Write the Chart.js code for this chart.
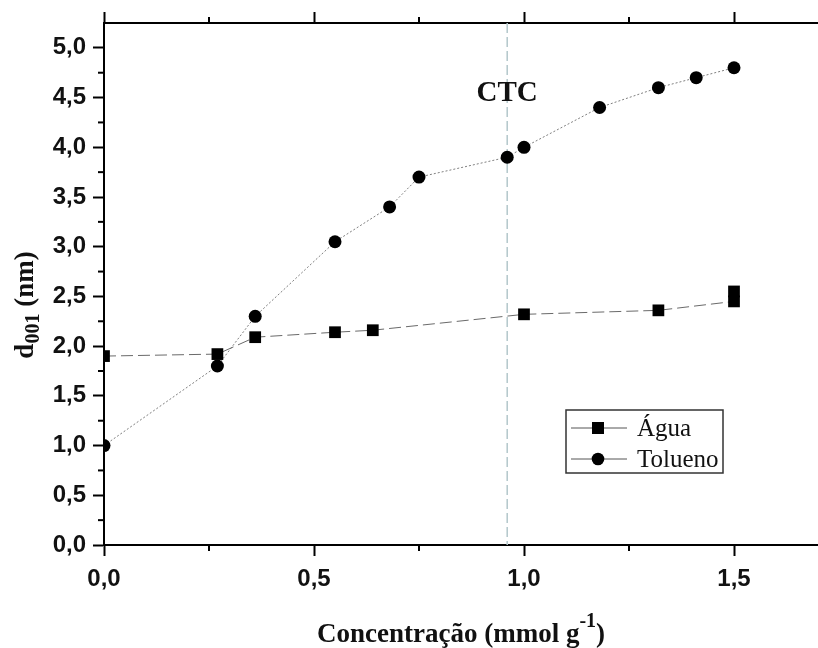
<!DOCTYPE html>
<html>
<head>
<meta charset="utf-8">
<script src="https://cdn.jsdelivr.net/npm/chart.js@4.4.1/dist/chart.umd.min.js"></script>
<style>
  body { margin: 0; background: #fff; }
  #wrap { width: 818px; height: 648px; }
</style>
</head>
<body>
<div id="wrap"><canvas id="c" width="818" height="648"></canvas></div>
<script>
// dados
const aguaX = [0, 0.27, 0.36, 0.55, 0.64, 1.0, 1.32, 1.5, 1.5];
const aguaY = [1.90, 1.92, 2.09, 2.14, 2.16, 2.32, 2.36, 2.45, 2.55];
const toluenoX = [0, 0.27, 0.36, 0.55, 0.68, 0.75, 0.96, 1.0, 1.18, 1.32, 1.41, 1.5];
const toluenoY = [1.0, 1.8, 2.3, 3.05, 3.4, 3.7, 3.9, 4.0, 4.4, 4.6, 4.7, 4.8];
const seriesNames = ['Água', 'Tolueno'];
const ctcValue = 0.96;
const ctcLabel = 'CTC';
const xRange = [0, 1.7];
const yRange = [0, 5.25];
const xTitle = ['Concentração (mmol g', '-1', ')'];
const yTitle = ['d', '001', ' (nm)'];

const toPoints = (xs, ys) => xs.map((x, i) => ({ x: x, y: ys[i] }));
const fmt = (v) => v.toFixed(1).replace('.', ',');

const serif = '"Liberation Serif", "Times New Roman", serif';
const sans = '"Liberation Sans", Arial, sans-serif';

// desenha texto com sobrescrito / subscrito
function richText(ctx, parts, x, y) {
  let total = 0;
  parts.forEach(p => { ctx.font = 'bold ' + p.size + 'px ' + serif; total += ctx.measureText(p.text).width; });
  let cx = x - total / 2;
  parts.forEach(p => {
    ctx.font = 'bold ' + p.size + 'px ' + serif;
    ctx.fillText(p.text, cx, y + p.dy);
    cx += ctx.measureText(p.text).width;
  });
}

// fundo branco, linha CTC, ticks menores
const extras = {
  id: 'extras',
  beforeDraw(chart) {
    const ctx = chart.ctx;
    ctx.save();
    ctx.fillStyle = '#fff';
    ctx.fillRect(0, 0, chart.width, chart.height);
    ctx.restore();
  },
  beforeDatasetsDraw(chart) {
    const { ctx, chartArea, scales } = chart;
    const px = scales.x.getPixelForValue(ctcValue);
    ctx.save();
    ctx.strokeStyle = '#b3c7cb';
    ctx.lineWidth = 1.5;
    ctx.setLineDash([10, 4]);
    ctx.beginPath();
    ctx.moveTo(px, chartArea.top);
    ctx.lineTo(px, chartArea.bottom);
    ctx.stroke();
    ctx.restore();
  },
  afterDraw(chart) {
    const { ctx, chartArea, scales } = chart;
    ctx.save();
    ctx.strokeStyle = '#000';
    ctx.lineWidth = 2;
    // ticks menores no meio dos maiores
    const minor = (scale) => {
      const t = scale.ticks.map(k => k.value);
      const out = [];
      for (let i = 0; i < t.length; i++) {
        const m = t[i] + 0.25;
        if (m < scale.max) out.push(m);
      }
      return out;
    };
    minor(scales.y).forEach(v => {
      const py = scales.y.getPixelForValue(v);
      ctx.beginPath(); ctx.moveTo(chartArea.left - 6, py); ctx.lineTo(chartArea.left, py); ctx.stroke();
    });
    minor(scales.x).forEach(v => {
      const px = scales.x.getPixelForValue(v);
      ctx.beginPath(); ctx.moveTo(px, chartArea.bottom); ctx.lineTo(px, chartArea.bottom + 6); ctx.stroke();
      ctx.beginPath(); ctx.moveTo(px, chartArea.top); ctx.lineTo(px, chartArea.top - 6); ctx.stroke();
    });
    ctx.restore();

    // rótulo CTC
    ctx.save();
    ctx.fillStyle = '#111';
    ctx.font = 'bold 29px ' + serif;
    ctx.textAlign = 'center';
    ctx.textBaseline = 'middle';
    ctx.fillText(ctcLabel, scales.x.getPixelForValue(ctcValue), 94);
    ctx.restore();

    // títulos dos eixos
    ctx.save();
    ctx.fillStyle = '#111';
    ctx.textBaseline = 'alphabetic';
    ctx.textAlign = 'left';
    richText(ctx, [
      { text: xTitle[0], size: 27, dy: 0 },
      { text: xTitle[1], size: 20, dy: -15 },
      { text: xTitle[2], size: 27, dy: 0 }
    ], (chartArea.left + chartArea.right) / 2, 642);
    ctx.translate(33, 305);
    ctx.rotate(-Math.PI / 2);
    richText(ctx, [
      { text: yTitle[0], size: 27, dy: 0 },
      { text: yTitle[1], size: 20, dy: 6 },
      { text: yTitle[2], size: 27, dy: 0 }
    ], 0, 0);
    ctx.restore();

    // legenda
    ctx.save();
    const bx = 566, by = 410, bw = 157, bh = 63;
    ctx.strokeStyle = '#333';
    ctx.lineWidth = 1.5;
    ctx.strokeRect(bx, by, bw, bh);
    chart.data.datasets.forEach((ds, i) => {
      const ry = by + 18 + i * 31;
      ctx.strokeStyle = '#555';
      ctx.lineWidth = 1;
      ctx.setLineDash([]);
      ctx.beginPath(); ctx.moveTo(bx + 5, ry); ctx.lineTo(bx + 61, ry); ctx.stroke();
      ctx.fillStyle = '#000';
      if (ds.pointStyle === 'rect') {
        ctx.fillRect(bx + 32 - 6, ry - 6, 12, 12);
      } else {
        ctx.beginPath(); ctx.arc(bx + 32, ry, 6.3, 0, Math.PI * 2); ctx.fill();
      }
      ctx.fillStyle = '#111';
      ctx.font = '25px ' + serif;
      ctx.textBaseline = 'middle';
      ctx.fillText(ds.label, bx + 71, ry + 1);
    });
    ctx.restore();
  }
};

const axisBase = {
  type: 'linear',
  border: { display: true, color: '#000', width: 2 },
  grid: { drawOnChartArea: false, drawTicks: true, tickLength: 11, tickWidth: 2, tickColor: '#000' }
};

// sem folga lateral: o eixo x vai até a borda direita
const noSidePad = (s) => { s.paddingLeft = 0; s.paddingRight = 0; };

new Chart(document.getElementById('c'), {
  type: 'scatter',
  data: {
    datasets: [
      {
        label: seriesNames[0],
        data: toPoints(aguaX, aguaY),
        showLine: true,
        borderColor: '#6a6a6a',
        borderWidth: 1,
        borderDash: [12, 5],
        pointStyle: 'rect',
        pointRadius: 8.3,
        pointHoverRadius: 8.3,
        pointBackgroundColor: '#000',
        pointBorderWidth: 0
      },
      {
        label: seriesNames[1],
        data: toPoints(toluenoX, toluenoY),
        showLine: true,
        borderColor: '#808080',
        borderWidth: 1,
        borderDash: [2, 2],
        pointStyle: 'circle',
        pointRadius: 6.5,
        pointHoverRadius: 6.5,
        pointBackgroundColor: '#000',
        pointBorderWidth: 0
      }
    ]
  },
  options: {
    responsive: false,
    animation: false,
    devicePixelRatio: 1,
    layout: { padding: 0, autoPadding: false },
    plugins: { legend: { display: false }, tooltip: { enabled: false } },
    scales: {
      x: Object.assign({}, axisBase, {
        position: 'bottom',
        min: xRange[0], max: xRange[1],
        afterFit: (s) => { s.height = 103; noSidePad(s); },
        ticks: {
          stepSize: 0.5, includeBounds: false, padding: 9,
          color: '#111', font: { family: sans, size: 24, weight: 'bold' },
          callback: (v) => fmt(v)
        }
      }),
      x2: Object.assign({}, axisBase, {
        position: 'top',
        min: xRange[0], max: xRange[1],
        afterFit: (s) => { s.height = 23; noSidePad(s); },
        ticks: { stepSize: 0.5, includeBounds: false, display: false }
      }),
      y: Object.assign({}, axisBase, {
        position: 'left',
        min: yRange[0], max: yRange[1],
        afterFit: (s) => { s.width = 104; s.paddingTop = 0; s.paddingBottom = 0; },
        ticks: {
          stepSize: 0.5, includeBounds: false, padding: 7,
          color: '#111', font: { family: sans, size: 24, weight: 'bold' },
          callback: (v) => fmt(v)
        }
      })
    }
  },
  plugins: [extras]
});
</script>
</body>
</html>
